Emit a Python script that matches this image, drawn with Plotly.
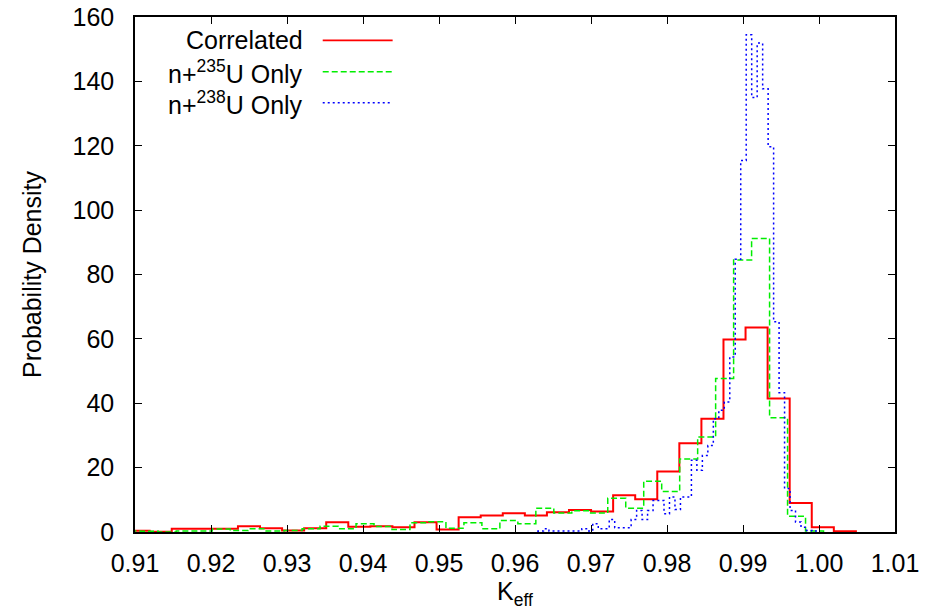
import numpy as np
import plotly.graph_objects as go

# ---------------- data ----------------
# Correlated histogram: first bin edge, bin width, densities
red_start = 0.909026
red_width = 0.0029039
red_values = [0.4, 0.1, 1.0, 1.0, 1.0, 1.8, 1.2, 0.5, 1.2, 3.0,
              1.6, 1.8, 1.5, 3.0, 0.8, 4.6, 5.1, 5.8, 5.1, 6.1,
              6.8, 6.4, 11.4, 10.2, 18.8, 27.6, 35.2, 59.8, 63.5, 41.5,
              9.0, 1.5, 0.2]

# n+235U only histogram
green_start = 0.908329
green_width = 0.0023658
green_values = [0.3, 0.2, 0.0, 0.3, 0.3, 0.9, 0.5, 1.0, 0.3, 0.5,
                1.0, 1.8, 1.0, 2.6, 1.7, 0.8, 2.9, 3.2, 1.2, 2.9,
                1.0, 3.6, 2.6, 7.4, 5.9, 6.6, 5.9, 10.5, 7.4, 15.8,
                12.6, 22.7, 29.5, 47.7, 84.5, 91.2, 35.5, 4.9, 0.3]

# n+238U only histogram
blue_start = 0.963024
blue_width = 0.000721
blue_values = [0.3, 1.0, 0.3, 0.3, 0.3, 0.3, 0.3, 0.3, 1.0, 0.3,
               2.6, 1.0, 1.0, 3.9, 1.3, 1.3, 1.3, 3.9, 6.7, 3.9,
               6.7, 9.8, 9.8, 5.7, 10.9, 7.0, 10.9, 10.9, 22.3, 19.2,
               23.8, 26.9, 35.2, 37.8, 40.4, 54.4, 84.7, 115.4, 154.5, 135.0,
               151.9, 137.7, 119.7, 65.3, 43.3, 13.5, 6.7, 3.1, 1.5, 0.5,
               0.3]

series_names = ["Correlated", "n+<sup>235</sup>U Only", "n+<sup>238</sup>U Only"]
x_ticks = [0.91, 0.92, 0.93, 0.94, 0.95, 0.96, 0.97, 0.98, 0.99, 1.00, 1.01]
y_ticks = [0, 20, 40, 60, 80, 100, 120, 140, 160]

FONT = "Liberation Sans, Arial, Helvetica, sans-serif"
FS = 25


def step_xy(start, width, values):
    n = len(values)
    edges = start + width * np.arange(n + 1)
    xs = [edges[0]] + list(edges[:-1]) + [edges[-1]]
    ys = [0.0] + list(values) + [0.0]
    return xs, ys


styles = [
    dict(color="#ff0000", width=2.0, dash="solid"),
    dict(color="#00ee00", width=1.5, dash="6px,3px"),
    dict(color="#0000ff", width=1.5, dash="2px,3px"),
]

fig = go.Figure()
for (start, width, vals), name, st in zip(
        [(red_start, red_width, red_values),
         (green_start, green_width, green_values),
         (blue_start, blue_width, blue_values)],
        series_names, styles):
    xs, ys = step_xy(start, width, vals)
    fig.add_trace(go.Scatter(x=xs, y=ys, mode="lines", name=name,
                             line=dict(shape="hv", **st), showlegend=False))

# gnuplot-style legend: right-aligned text with line sample to its right
leg_y = [0.9548, 0.8938, 0.8336]
for name, st, yy in zip(series_names, styles, leg_y):
    fig.add_annotation(x=0.2237, y=yy, xref="paper", yref="paper",
                       text=name, showarrow=False, xanchor="right",
                       yanchor="middle", font=dict(family=FONT, size=FS, color="black"))
    fig.add_shape(type="line", xref="paper", yref="paper",
                  x0=0.247, x1=0.339, y0=yy, y1=yy,
                  line=dict(color=st["color"], width=1.5 if st["dash"] != "solid" else 1.8,
                            dash=st["dash"]))

axis_common = dict(showline=True, linecolor="black", linewidth=1.5, mirror="ticks",
                   ticks="inside", ticklen=7, tickwidth=1.2, tickcolor="black",
                   showgrid=False, zeroline=False, automargin=False,
                   tickfont=dict(family=FONT, size=FS, color="black"))

fig.update_xaxes(range=[0.91, 1.01], tickvals=x_ticks,
                 ticktext=[f"{v:.2f}" for v in x_ticks],
                 ticklabelstandoff=8,
                 title=dict(text="K<sub>eff</sub>", standoff=7,
                            font=dict(family=FONT, size=FS, color="black")),
                 **axis_common)
fig.update_yaxes(range=[0, 160], tickvals=y_ticks,
                 ticklabelstandoff=14,
                 title=dict(text="Probability Density", standoff=24,
                            font=dict(family=FONT, size=FS, color="black")),
                 **axis_common)

fig.update_layout(width=936, height=611,
                  margin=dict(l=135, r=41, t=17, b=79, autoexpand=False),
                  paper_bgcolor="white", plot_bgcolor="white",
                  font=dict(family=FONT, size=FS, color="black"))

fig.write_html("out.html", config={"displayModeBar": False},
               post_script="document.body.style.margin='0px';"
                           "document.body.style.overflow='hidden';")
